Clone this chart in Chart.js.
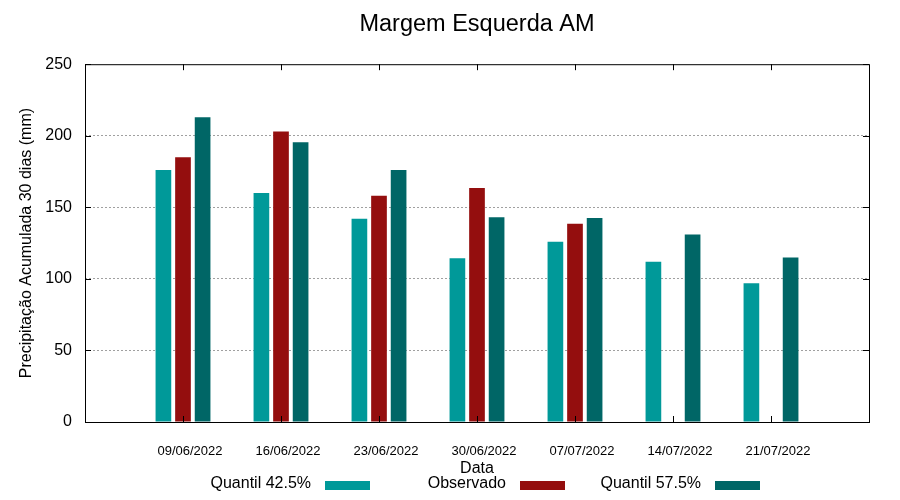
<!DOCTYPE html>
<html>
<head>
<meta charset="utf-8">
<script src="https://cdn.jsdelivr.net/npm/chart.js"></script>
<style>
  body { margin: 0; background: #fff; }
  #wrap { width: 900px; height: 500px; }
</style>
</head>
<body>
<div id="wrap"><canvas id="margem" width="900" height="500"></canvas></div>
<script>
// values
const dates = ['09/06/2022', '16/06/2022', '23/06/2022', '30/06/2022', '07/07/2022', '14/07/2022', '21/07/2022'];
const quantil425 = [176, 160, 142, 114.5, 126, 112, 97];
const observado = [185, 203, 158, 163.5, 138.5, null, null];
const quantil575 = [213, 195.5, 176, 143, 142.5, 131, 115];
const yTicks = [0, 50, 100, 150, 200, 250];

const teal = '#009999';
const red = '#940e0e';
const darkTeal = '#006666';

// pad one empty slot each side so the axis runs from -1 to 7
const pad = arr => [null, ...arr, null];

Chart.defaults.font.family = '"Liberation Sans", Arial, sans-serif';
Chart.defaults.color = '#000';

// gnuplot-like frame, inside ticks and legend (text left of sample)
const frame = {
  id: 'frame',
  afterDatasetsDraw(chart) {
    const { ctx, chartArea: a, scales: { x, y } } = chart;
    ctx.save();
    ctx.strokeStyle = '#000';
    ctx.lineWidth = 1;
    ctx.beginPath();
    dates.forEach((d, i) => {
      const px = Math.round(x.getPixelForValue(i + 1)) + 0.5;
      ctx.moveTo(px, a.bottom); ctx.lineTo(px, a.bottom - 6);
      ctx.moveTo(px, a.top); ctx.lineTo(px, a.top + 6);
    });
    yTicks.forEach(v => {
      const py = Math.round(y.getPixelForValue(v)) + 0.5;
      ctx.moveTo(a.left, py); ctx.lineTo(a.left + 6, py);
      ctx.moveTo(a.right, py); ctx.lineTo(a.right - 6, py);
    });
    ctx.stroke();
    ctx.strokeRect(a.left + 0.5, a.top + 0.5, a.right - a.left, a.bottom - a.top);
    ctx.restore();
  },
  afterDraw(chart) {
    const { ctx } = chart;
    ctx.save();
    ctx.font = '16px "Liberation Sans", Arial, sans-serif';
    ctx.textAlign = 'right';
    ctx.textBaseline = 'middle';
    chart.data.datasets.forEach((ds, i) => {
      const bx = 325 + i * 195;
      ctx.fillStyle = '#000';
      ctx.fillText(ds.label, bx - 14, 484);
      ctx.fillStyle = ds.backgroundColor;
      ctx.fillRect(bx, 481, 45, 9);
    });
    ctx.restore();
  }
};

new Chart('margem', {
  type: 'bar',
  data: {
    labels: ['', ...dates, ''],
    datasets: [
      { label: 'Quantil 42.5%', backgroundColor: teal, data: pad(quantil425) },
      { label: 'Observado', backgroundColor: red, data: pad(observado) },
      { label: 'Quantil 57.5%', backgroundColor: darkTeal, data: pad(quantil575) }
    ]
  },
  options: {
    responsive: false,
    animation: false,
    categoryPercentage: 0.6,
    barPercentage: 0.8,
    layout: { padding: { left: 0, right: 31, top: 0, bottom: 0 } },
    scales: {
      x: {
        offset: false,
        grid: { display: false },
        border: { display: false },
        ticks: { font: { size: 13 }, padding: 14, labelOffset: 7, autoSkip: false, maxRotation: 0 },
        title: { display: true, text: 'Data', font: { size: 16 }, padding: { top: 0, bottom: 22 } },
        afterFit(scale) { scale.height = 78; }
      },
      y: {
        min: 0,
        max: 250,
        afterBuildTicks(scale) { scale.ticks = yTicks.map(v => ({ value: v })); },
        grid: {
          drawTicks: false,
          color: c => (c.tick && (c.tick.value === 0 || c.tick.value === 250)) ? 'rgba(0,0,0,0)' : '#a0a0a0',
          lineWidth: 1
        },
        border: { display: false, dash: [2, 2] },
        ticks: { font: { size: 16 }, padding: 13 },
        title: { display: true, text: 'Precipitação Acumulada 30 dias (mm)', font: { size: 16 }, padding: { top: 17, bottom: 0 } },
        afterFit(scale) { scale.width = 85; }
      }
    },
    plugins: {
      legend: { display: false },
      tooltip: { enabled: false },
      title: {
        display: true,
        fullSize: false,
        text: 'Margem Esquerda AM',
        font: { size: 23.5, weight: 'normal' },
        color: '#000',
        padding: { top: 10, bottom: 26 }
      }
    }
  },
  plugins: [frame]
});
</script>
</body>
</html>
